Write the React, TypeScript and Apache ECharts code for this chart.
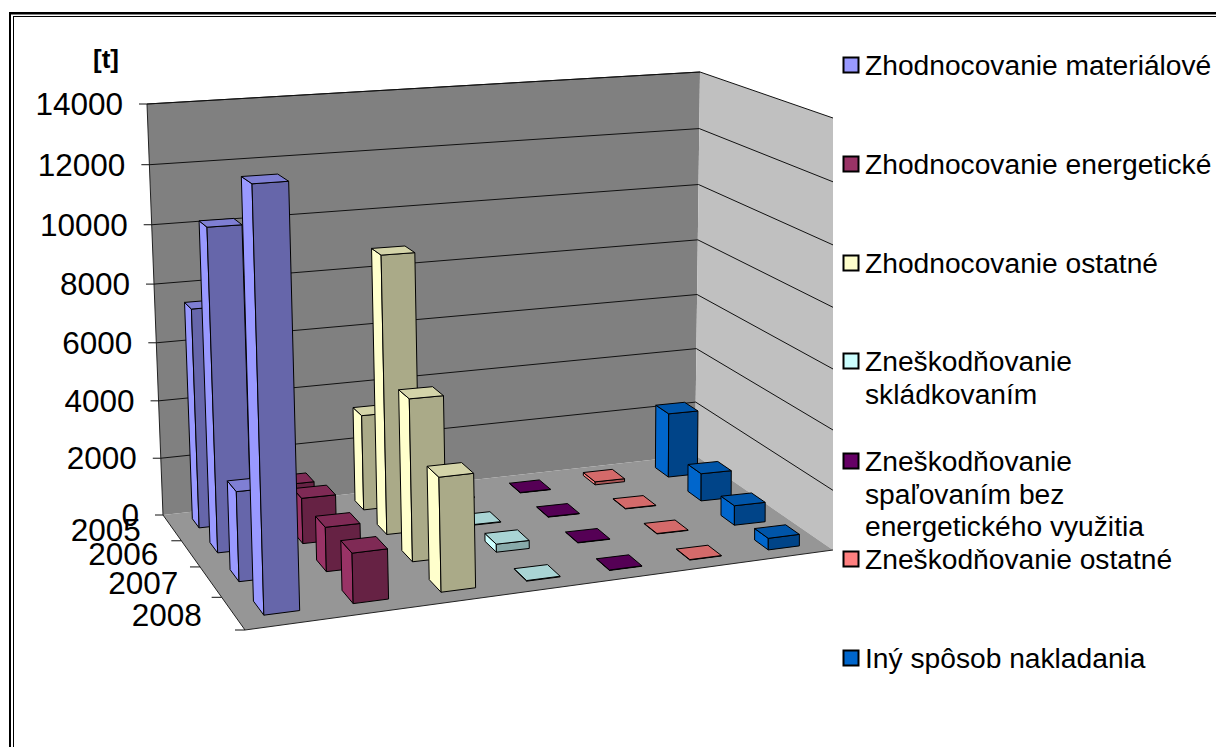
import React, { useEffect, useRef } from "react";
import * as echarts from "echarts";

const seriesNames = [
  "Zhodnocovanie materiálové",
  "Zhodnocovanie energetické",
  "Zhodnocovanie ostatné",
  "Zneškodňovanie skládkovaním",
  "Zneškodňovanie spaľovaním bez energetického využitia",
  "Zneškodňovanie ostatné",
  "Iný spôsob nakladania",
];
const years = ["2005", "2006", "2007", "2008"];
const yTicks = [0, 2000, 4000, 6000, 8000, 10000, 12000, 14000];

const materialove = [7470, 10690, 2920, 13090];
const energeticke = [1180, 1540, 1460, 1600];
const zhodnOstatne = [3320, 9390, 5360, 3670];
const skladkovanim = [40, 20, 270, 20];
const spalovanim = [15, 15, 15, 15];
const znesOstatne = [110, 15, 15, 15];
const iny = [2320, 970, 675, 390];
const allValues = [materialove, energeticke, zhodnOstatne, skladkovanim, spalovanim, znesOstatne, iny];

const seriesColors = ["#9999FF", "#993366", "#FFFFCC", "#CCFFFF", "#660066", "#FF8080", "#0066CC"];

const legendLines = [
  ["Zhodnocovanie materiálové"],
  ["Zhodnocovanie energetické"],
  ["Zhodnocovanie ostatné"],
  ["Zneškodňovanie", "skládkovaním"],
  ["Zneškodňovanie", "spaľovaním bez", "energetického využitia"],
  ["Zneškodňovanie ostatné"],
  ["Iný spôsob nakladania"],
];
const legendCenters = [65, 164, 263, 361, 461, 559, 658];

// Calibration of the perspective box: screen position of the corners of the chart cube.
const FLOOR_BOX = [[163, 515], [695, 455], [833, 550], [245, 630]];
const TOP_BOX = [[147, 104], [700, 72], [833, 118], [232, 160]];
const Z_BEND = 1.04;
const DEPTH_BEND_LEFT = 1.35;
const DEPTH_BEND_RIGHT = 1.0;
const WIDTH_BULGE = 0.024;

function bilinear(box: number[][], X: number, Y: number): number[] {
  const [a, b, c, d] = box;
  return [0, 1].map((k) => {
    const back = a[k] + (b[k] - a[k]) * X;
    const front = d[k] + (c[k] - d[k]) * X;
    return back + (front - back) * Y;
  });
}

function project(X: number, Y: number, Z: number): number[] {
  const r = DEPTH_BEND_LEFT + (DEPTH_BEND_RIGHT - DEPTH_BEND_LEFT) * X;
  const yw = Y <= 0 ? 0 : Y / (Y + r * (1 - Y));
  const xw = X + WIDTH_BULGE * Math.sin(Math.PI * X);
  const a = bilinear(FLOOR_BOX, xw, yw);
  const b = bilinear(TOP_BOX, xw, yw);
  const t = Z <= 0 ? 0 : Z / (Z + Z_BEND * (1 - Z));
  return [a[0] + (b[0] - a[0]) * t, a[1] + (b[1] - a[1]) * t];
}

function shade(hex: string, f: number): string {
  const n = parseInt(hex.slice(1), 16);
  const c = [(n >> 16) & 255, (n >> 8) & 255, n & 255].map((v) => Math.round(v * f));
  return `rgb(${c[0]},${c[1]},${c[2]})`;
}

const AXIS_FONT = '31.5px "Liberation Sans", Arial, sans-serif';
const LEGEND_FONT = '28.2px "Liberation Sans", Arial, sans-serif';
const BAR_W = 0.4;

const zOf = (v: number, api: any, cs: any) => {
  const p = api.coord([0, v]);
  return (cs.y + cs.height - p[1]) / cs.height;
};

function renderBar(params: any, api: any) {
  const cs = params.coordSys;
  const i = api.value(0);
  const j = api.value(1);
  const v = api.value(2);
  const pt = api.coord([i, v]);
  const cx = (pt[0] - cs.x) / cs.width;
  const z = (cs.y + cs.height - pt[1]) / cs.height;
  const hx = (BAR_W / 2) / seriesNames.length;
  const hy = (BAR_W / 2) / years.length;
  const cy = (j + 0.5) / years.length;
  const x0 = cx - hx, x1 = cx + hx, y0 = cy - hy, y1 = cy + hy;
  const color = seriesColors[i];
  const z2 = 10 + (j * seriesNames.length + (seriesNames.length - 1 - i)) * 3;
  const line = { stroke: "#000", lineWidth: 1, lineJoin: "round" };
  const face = (pts: number[][], fill: string, k: number) => ({
    type: "polygon",
    z2: z2 + k,
    shape: { points: pts },
    style: { fill, ...line },
  });
  return {
    type: "group",
    children: [
      face([project(x0, y0, 0), project(x0, y1, 0), project(x0, y1, z), project(x0, y0, z)], color, 0),
      face([project(x0, y1, 0), project(x1, y1, 0), project(x1, y1, z), project(x0, y1, z)], shade(color, 0.667), 1),
      face([project(x0, y0, z), project(x1, y0, z), project(x1, y1, z), project(x0, y1, z)], shade(color, 0.83), 2),
    ],
  };
}

function renderWalls(_: any, api: any) {
  const wall = api.value(0);
  const corners = [
    [project(0, 0, 0), project(1, 0, 0), project(1, 0, 1), project(0, 0, 1)],
    [project(1, 0, 0), project(1, 1, 0), project(1, 1, 1), project(1, 0, 1)],
    [project(0, 0, 0), project(1, 0, 0), project(1, 1, 0), project(0, 1, 0)],
  ][wall];
  const fills = ["#808080", "#C0C0C0", "#969696"];
  const out = [
    [project(0, 0, 0), project(0, 0, 1), project(1, 0, 1)],
    [],
    [project(0, 0, 0), project(0, 1, 0), project(1, 1, 0)],
  ][wall];
  return {
    type: "group",
    children: [
      { type: "polygon", z2: 1, shape: { points: corners }, style: { fill: fills[wall], stroke: "none" } },
      ...(out.length ? [{ type: "polyline", z2: 2, shape: { points: out }, style: { fill: "none", stroke: "#222", lineWidth: 1 } }] : []),
    ],
  };
}

function renderYTick(params: any, api: any) {
  const cs = params.coordSys;
  const v = api.value(1);
  const z = zOf(v, api, cs);
  const a = project(0, 0, z);
  const b = project(1, 0, z);
  const c = project(1, 1, z);
  const ln = (p: number[], q: number[]) => ({
    type: "line",
    z2: 3,
    shape: { x1: p[0], y1: p[1], x2: q[0], y2: q[1] },
    style: { stroke: "#111", lineWidth: 1 },
  });
  return {
    type: "group",
    children: [
      ...(v > 0 ? [ln(a, b), ln(b, c)] : []),
      ln([a[0] - 8, a[1]], a),
      {
        type: "text",
        z2: 3,
        style: { x: a[0] - 24, y: a[1], text: String(yTicks[params.dataIndex]), font: AXIS_FONT, fill: "#000", align: "right", verticalAlign: "middle" },
      },
    ],
  };
}

function renderYear(params: any, api: any) {
  const j = api.value(1);
  const m = project(0, (j + 0.5) / years.length, 0);
  const t = project(0, (j + 1) / years.length, 0);
  const dy = j < years.length - 1 ? 3 : 0;
  const tx = t[0] + dy * 0.7;
  return {
    type: "group",
    children: [
      { type: "line", z2: 3, shape: { x1: tx - 10, y1: t[1] + dy, x2: tx, y2: t[1] + dy }, style: { stroke: "#111", lineWidth: 1 } },
      {
        type: "text",
        z2: 4,
        style: { x: m[0] - 30, y: m[1] + 4, text: years[params.dataIndex], font: AXIS_FONT, fill: "#000", align: "right", verticalAlign: "middle" },
      },
    ],
  };
}

function legendGraphics() {
  const els: any[] = [];
  const line = (x1: number, y1: number, x2: number, y2: number, w: number) => ({
    type: "line",
    shape: { x1, y1, x2, y2 },
    style: { stroke: "#000", lineWidth: w },
  });
  els.push(line(9, 13.2, 1216, 13.2, 2.5), line(10, 12, 10, 747, 2), line(13.5, 16.5, 1216, 16.5, 1), line(13.5, 16, 13.5, 747, 1));
  legendLines.forEach((lines, i) => {
    const c = legendCenters[i];
    els.push({
      type: "rect",
      shape: { x: 843.5, y: c - 7.5, width: 15, height: 15 },
      style: { fill: seriesColors[i], stroke: "#000", lineWidth: 2 },
    });
    lines.forEach((t, k) => {
      els.push({
        type: "text",
        style: { x: 865, y: c + k * 32.5, text: t, font: LEGEND_FONT, fill: "#000", align: "left", verticalAlign: "middle" },
      });
    });
  });
  els.push({
    type: "text",
    style: { x: 106, y: 59, text: "[t]", font: 'bold 26px "Liberation Sans", Arial, sans-serif', fill: "#000", align: "center", verticalAlign: "middle" },
  });
  return els;
}

export default function App() {
  const ref = useRef<HTMLDivElement>(null);
  useEffect(() => {
    const chart = echarts.init(ref.current!, undefined, { renderer: "svg" });
    chart.setOption({
      animation: false,
      backgroundColor: "#fff",
      grid: { left: 0, right: 0, top: 0, bottom: 0 },
      xAxis: { type: "category", data: seriesNames, show: false },
      yAxis: { type: "value", min: 0, max: 14000, interval: 2000, show: false },
      graphic: { elements: legendGraphics() },
      series: [
        {
          type: "custom",
          name: "walls",
          silent: true,
          clip: false,
          data: [[0, 0, 0], [1, 0, 0], [2, 0, 0]],
          encode: { x: 1, y: 2 },
          renderItem: renderWalls,
        },
        {
          type: "custom",
          name: "yAxisTicks",
          silent: true,
          clip: false,
          data: yTicks.map((t) => [0, t]),
          encode: { x: 0, y: 1 },
          renderItem: renderYTick,
        },
        {
          type: "custom",
          name: "years",
          silent: true,
          clip: false,
          data: years.map((_, j) => [0, j]),
          encode: { x: 0, y: 1 },
          renderItem: renderYear,
        },
        ...seriesNames.map((name, i) => ({
          type: "custom",
          name,
          clip: false,
          data: allValues[i].map((v, j) => [i, j, v]),
          encode: { x: 0, y: 2 },
          renderItem: renderBar,
        })),
      ],
    });
    return () => chart.dispose();
  }, []);
  return <div ref={ref} style={{ position: "fixed", left: 0, top: 0, width: 1216, height: 747 }} />;
}
